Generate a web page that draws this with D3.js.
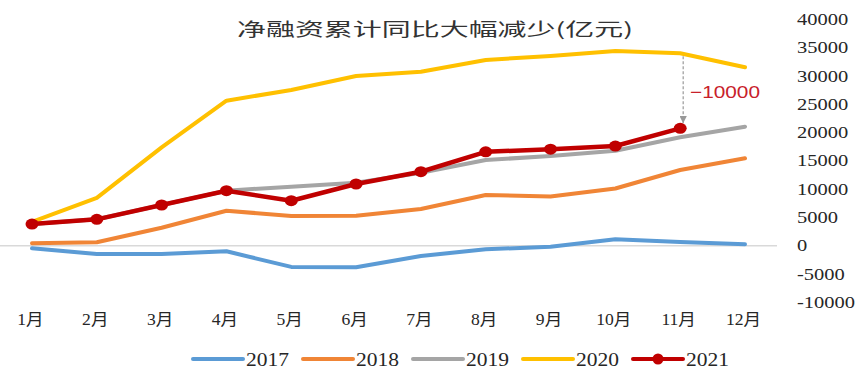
<!DOCTYPE html>
<html>
<head>
<meta charset="utf-8">
<script src="https://cdn.jsdelivr.net/npm/d3@7"></script>
<style>
  html, body { margin: 0; padding: 0; background: #fff; }
  svg { display: block; }
</style>
</head>
<body>
<svg id="chart" width="867" height="380"></svg>
<script>
const months = ["1月","2月","3月","4月","5月","6月","7月","8月","9月","10月","11月","12月"];
const s2017 = [-460, -1470, -1470, -990, -3750, -3820, -1820, -640, -170, 1130, 650, 250];
const s2018 = [420, 600, 3180, 6180, 5250, 5300, 6480, 8960, 8700, 10100, 13370, 15440];
const s2019 = [3830, 4660, 7190, 9720, 10430, 11130, 12900, 15140, 15850, 16790, 19150, 21030];
const s2020 = [4200, 8450, 17380, 25620, 27510, 29980, 30740, 32810, 33520, 34400, 33990, 31520];
const s2021 = [3830, 4660, 7190, 9720, 7950, 10900, 13070, 16580, 17050, 17610, 20740];
const yTicks = [-10000, -5000, 0, 5000, 10000, 15000, 20000, 25000, 30000, 35000, 40000];
const titleText = "净融资累计同比大幅减少(亿元)";
const annotText = "\u221210000";
const seriesNames = ["2017","2018","2019","2020","2021"];
const seriesData = [s2017, s2018, s2019, s2020, s2021];
const colors = ["#5B9BD5", "#F08536", "#A5A5A5", "#FFC000", "#C00000"];

const svg = d3.select("#chart");
const x = d3.scalePoint().domain(months).range([32, 745]);
const y = d3.scaleLinear().domain([-10000, 40000]).range([302.3, 19.3]);

// zero gridline
svg.append("line")
  .attr("x1", 0).attr("x2", 777)
  .attr("y1", y(0)).attr("y2", y(0))
  .attr("stroke", "#D9D9D9").attr("stroke-width", 1.5);

// title
svg.append("text")
  .attr("x", 237).attr("y", 36)
  .attr("textLength", 396).attr("lengthAdjust", "spacingAndGlyphs")
  .attr("font-family", "'Noto Sans CJK SC', sans-serif")
  .attr("font-size", 18).attr("fill", "#333")
  .text(titleText);

// y axis (right)
const yAxis = svg.append("g")
  .attr("transform", "translate(797,0)")
  .call(d3.axisRight(y).tickValues(yTicks).tickSize(0).tickPadding(0).tickFormat(d => String(d)));
yAxis.select(".domain").remove();
yAxis.selectAll("text")
  .attr("font-family", "'Liberation Serif', serif")
  .attr("font-size", 16).attr("fill", "#262626")
  .attr("text-anchor", "start").attr("x", 0)
  .each(function() {
    const w = this.getComputedTextLength();
    d3.select(this).attr("textLength", w * 1.28).attr("lengthAdjust", "spacingAndGlyphs");
  });

// x axis
const xAxis = svg.append("g")
  .attr("transform", "translate(-2,313)")
  .call(d3.axisBottom(x).tickSize(0).tickPadding(0));
xAxis.select(".domain").remove();
xAxis.selectAll("text")
  .attr("font-family", "'Liberation Serif', 'Noto Sans CJK SC', serif")
  .attr("font-size", 16).attr("fill", "#262626")
  .attr("dy", "0.75em")
  .each(function() {
    const w = this.getComputedTextLength();
    d3.select(this).attr("textLength", w * 1.1).attr("lengthAdjust", "spacingAndGlyphs");
  });

// lines
const line = d3.line().x((d, i) => x(months[i])).y(d => y(d));
seriesData.forEach((data, k) => {
  svg.append("path")
    .datum(data)
    .attr("fill", "none")
    .attr("stroke", colors[k])
    .attr("stroke-width", k === 4 ? 4.5 : 4)
    .attr("stroke-linejoin", "round")
    .attr("stroke-linecap", "round")
    .attr("d", line);
});
svg.append("g").selectAll("ellipse")
  .data(s2021)
  .join("ellipse")
  .attr("cx", (d, i) => x(months[i]))
  .attr("cy", d => y(d))
  .attr("rx", 6.5).attr("ry", 5.5)
  .attr("fill", colors[4]);

// annotation arrow
const ax = x(months[10]) + 3;
svg.append("defs").append("marker")
  .attr("id", "arr").attr("viewBox", "0 0 10 10")
  .attr("refX", 10).attr("refY", 5)
  .attr("markerWidth", 6).attr("markerHeight", 6)
  .attr("orient", "auto")
  .append("path").attr("d", "M0,0 L10,5 L0,10 z").attr("fill", "#999");
svg.append("line")
  .attr("x1", ax).attr("x2", ax)
  .attr("y1", y(s2020[10]) + 3).attr("y2", y(s2021[10]) - 5)
  .attr("stroke", "#999").attr("stroke-width", 1.2)
  .attr("stroke-dasharray", "3,2")
  .attr("marker-end", "url(#arr)");
svg.append("text")
  .attr("x", 690).attr("y", 98)
  .attr("font-family", "'Liberation Sans', Arial, sans-serif")
  .attr("font-size", 17).attr("fill", "#C8202A")
  .attr("textLength", 70).attr("lengthAdjust", "spacingAndGlyphs")
  .text(annotText);

// legend
const legend = svg.append("g").attr("transform", "translate(193,359)");
seriesNames.forEach((name, k) => {
  const g = legend.append("g").attr("transform", `translate(${k * 110},0)`);
  g.append("line").attr("x1", 0).attr("x2", 50).attr("y1", 0).attr("y2", 0)
    .attr("stroke", colors[k]).attr("stroke-width", 4).attr("stroke-linecap", "round");
  if (k === 4) {
    g.append("circle").attr("cx", 25).attr("cy", 0).attr("r", 5.5).attr("fill", colors[k]);
  }
  g.append("text").attr("x", 53).attr("y", 6.5)
    .attr("font-family", "'Liberation Serif', serif")
    .attr("font-size", 18).attr("fill", "#262626")
    .attr("textLength", 43).attr("lengthAdjust", "spacingAndGlyphs")
    .text(name);
});
</script>
</body>
</html>
